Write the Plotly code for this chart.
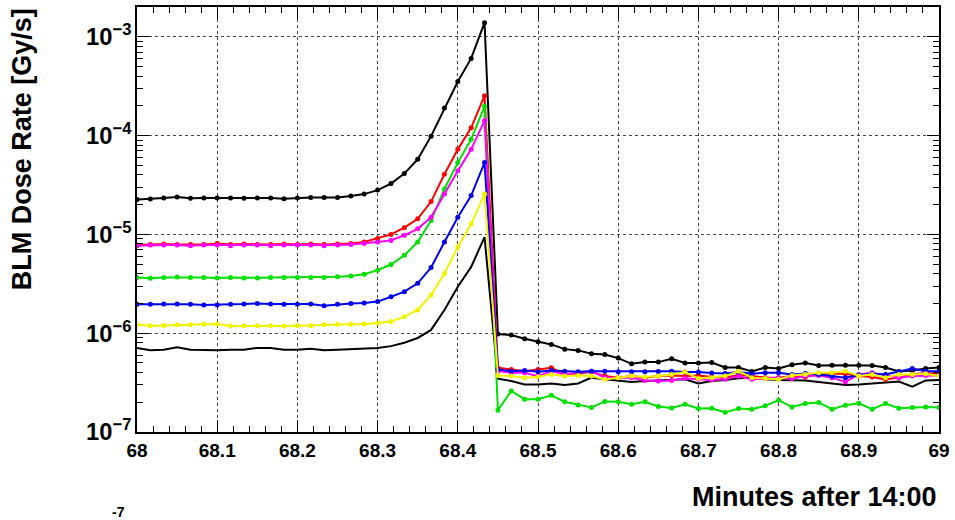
import plotly.graph_objects as go

# time axis: one sample per second, minutes after 14:00
t_sec = list(range(0, 61))
x_min = [68 + s / 60 for s in t_sec]

black_top = [2.25e-5, 2.28e-5, 2.34e-5, 2.39e-5, 2.32e-5, 2.34e-5, 2.34e-5, 2.34e-5, 2.32e-5, 2.34e-5,
             2.34e-5, 2.29e-5, 2.34e-5, 2.37e-5, 2.37e-5, 2.37e-5, 2.45e-5,
             2.56e-5, 2.81e-5, 3.27e-5, 4.13e-5, 5.76e-5, 9.88e-5, 1.90e-4, 3.53e-4, 6.05e-4, 1.39e-3,
             9.8e-7, 9.6e-7, 8.8e-7, 8.2e-7, 7.7e-7, 6.9e-7, 6.7e-7, 6.2e-7, 6.1e-7, 5.6e-7,
             4.9e-7, 5.1e-7, 5.1e-7, 5.5e-7, 5.0e-7, 5.0e-7, 5.05e-7,
             4.5e-7, 4.5e-7, 4.1e-7, 4.5e-7, 4.4e-7, 4.8e-7, 5.0e-7, 4.7e-7, 4.75e-7, 4.75e-7,
             4.75e-7, 4.7e-7, 4.5e-7, 4.1e-7, 4.2e-7, 4.4e-7, 4.5e-7]

red = [7.8e-6, 7.9e-6, 8.0e-6, 7.9e-6, 7.9e-6, 7.9e-6, 8.1e-6, 7.9e-6, 8.0e-6, 7.9e-6,
       7.9e-6, 8.0e-6, 7.9e-6, 8.0e-6, 7.9e-6, 8.0e-6, 8.1e-6,
       8.4e-6, 9.1e-6, 1.0e-5, 1.17e-5, 1.44e-5, 2.15e-5, 4.07e-5, 7.26e-5, 1.20e-4, 2.54e-4,
       4.47e-7, 4.3e-7, 4.13e-7, 4.3e-7, 4.47e-7, 3.83e-7, 3.89e-7, 4.07e-7, 3.68e-7, 3.55e-7,
       3.68e-7, 3.55e-7, 3.68e-7, 3.74e-7, 3.68e-7, 3.74e-7, 3.6e-7,
       3.55e-7, 3.77e-7, 3.68e-7, 3.55e-7, 3.55e-7, 3.68e-7, 3.6e-7, 3.89e-7, 3.89e-7, 3.89e-7,
       3.68e-7, 3.6e-7, 3.41e-7, 3.55e-7, 3.83e-7, 3.98e-7, 3.83e-7]

magenta = [7.7e-6, 7.8e-6, 7.8e-6, 7.8e-6, 7.7e-6, 7.8e-6, 7.8e-6, 7.7e-6, 7.8e-6, 7.8e-6,
           7.7e-6, 7.8e-6, 7.8e-6, 7.8e-6, 7.7e-6, 7.8e-6, 7.9e-6,
           8.1e-6, 8.4e-6, 8.7e-6, 9.8e-6, 1.14e-5, 1.49e-5, 2.56e-5, 4.4e-5, 7.26e-5, 1.42e-4,
           4.13e-7, 3.98e-7, 3.98e-7, 3.68e-7, 4.13e-7, 3.83e-7, 3.98e-7, 4.13e-7, 3.55e-7, 3.55e-7,
           3.55e-7, 3.33e-7, 3.28e-7, 3.33e-7, 3.49e-7, 3.41e-7, 3.36e-7,
           3.41e-7, 3.68e-7, 3.41e-7, 3.47e-7, 3.55e-7, 3.47e-7, 3.68e-7, 3.74e-7, 3.55e-7, 3.21e-7,
           3.83e-7, 3.98e-7, 3.77e-7, 3.55e-7, 3.68e-7, 3.74e-7, 3.74e-7]

green = [3.67e-6, 3.6e-6, 3.67e-6, 3.7e-6, 3.67e-6, 3.67e-6, 3.63e-6, 3.67e-6, 3.63e-6, 3.63e-6,
         3.67e-6, 3.67e-6, 3.67e-6, 3.67e-6, 3.67e-6, 3.73e-6, 3.8e-6,
         3.96e-6, 4.35e-6, 4.96e-6, 6.15e-6, 8.37e-6, 1.38e-5, 2.88e-5, 5.33e-5, 9.17e-5, 1.98e-4,
         1.66e-7, 2.6e-7, 2.15e-7, 2.15e-7, 2.35e-7, 2.02e-7, 1.88e-7, 1.77e-7, 2.04e-7, 2.02e-7,
         1.91e-7, 2.02e-7, 1.81e-7, 1.75e-7, 1.91e-7, 1.73e-7, 1.74e-7,
         1.58e-7, 1.73e-7, 1.70e-7, 1.84e-7, 2.1e-7, 1.79e-7, 1.94e-7, 1.99e-7, 1.70e-7, 1.87e-7,
         1.95e-7, 1.70e-7, 1.94e-7, 1.74e-7, 1.77e-7, 1.79e-7, 1.77e-7]

blue = [1.96e-6, 1.96e-6, 1.97e-6, 1.97e-6, 1.96e-6, 1.93e-6, 1.93e-6, 1.96e-6, 1.97e-6, 2.0e-6,
        1.97e-6, 1.96e-6, 1.96e-6, 1.97e-6, 1.90e-6, 1.96e-6, 2.0e-6,
        2.02e-6, 2.09e-6, 2.34e-6, 2.63e-6, 3.2e-6, 4.62e-6, 8.37e-6, 1.49e-5, 2.47e-5, 5.33e-5,
        4.3e-7, 4.13e-7, 4.2e-7, 4.07e-7, 4.2e-7, 4.13e-7, 4.07e-7, 4.13e-7, 4.13e-7, 4.07e-7,
        4.07e-7, 4.07e-7, 4.1e-7, 4.13e-7, 4.04e-7, 4.04e-7, 3.95e-7,
        3.92e-7, 4.04e-7, 3.89e-7, 3.98e-7, 3.98e-7, 3.83e-7, 3.92e-7, 3.83e-7, 3.68e-7, 3.55e-7,
        3.77e-7, 3.89e-7, 3.83e-7, 4.07e-7, 4.4e-7, 4.13e-7, 4.13e-7]

yellow = [1.22e-6, 1.19e-6, 1.2e-6, 1.22e-6, 1.22e-6, 1.23e-6, 1.24e-6, 1.18e-6, 1.19e-6, 1.19e-6,
          1.19e-6, 1.18e-6, 1.19e-6, 1.19e-6, 1.22e-6, 1.23e-6, 1.23e-6,
          1.24e-6, 1.27e-6, 1.31e-6, 1.47e-6, 1.72e-6, 2.44e-6, 4.03e-6, 7.45e-6, 1.28e-5, 2.56e-5,
          3.74e-7, 3.68e-7, 3.55e-7, 3.63e-7, 3.83e-7, 3.68e-7, 3.74e-7, 3.68e-7, 3.41e-7, 3.55e-7,
          3.68e-7, 3.6e-7, 3.68e-7, 3.83e-7, 4.04e-7, 3.47e-7, 3.55e-7,
          3.68e-7, 4.13e-7, 3.55e-7, 3.47e-7, 3.41e-7, 3.74e-7, 3.83e-7, 3.98e-7, 3.98e-7, 4.13e-7,
          3.68e-7, 3.83e-7, 3.55e-7, 3.83e-7, 3.83e-7, 3.89e-7, 3.68e-7]

black_bottom = [7.1e-7, 6.72e-7, 6.8e-7, 7.2e-7, 6.8e-7, 6.72e-7, 6.72e-7, 6.8e-7, 6.8e-7, 7.1e-7,
                7.1e-7, 6.8e-7, 6.8e-7, 6.95e-7, 6.72e-7, 6.8e-7, 6.93e-7,
                7.0e-7, 7.1e-7, 7.4e-7, 8.0e-7, 8.95e-7, 1.08e-6, 1.72e-6, 2.95e-6, 4.69e-6, 9.4e-6,
                3.47e-7, 3.28e-7, 3.03e-7, 3.03e-7, 3.1e-7, 2.99e-7, 3.1e-7, 3.55e-7, 3.41e-7, 3.28e-7,
                3.21e-7, 3.28e-7, 3.33e-7, 3.33e-7, 3.41e-7, 3.1e-7, 3.28e-7,
                3.36e-7, 3.49e-7, 3.55e-7, 3.41e-7, 3.36e-7, 3.36e-7, 3.33e-7, 3.21e-7, 3.1e-7, 2.99e-7,
                3.03e-7, 3.1e-7, 3.16e-7, 3.24e-7, 2.88e-7, 3.33e-7, 3.36e-7]

X_RANGE = [68, 69]
Y_RANGE = [-7, -2.698]

FONT = "Liberation Sans"

fig = go.Figure()

series = [
    (black_bottom, "#000000", False),
    (black_top, "#000000", True),
    (red, "#ff0000", True),
    (green, "#00e000", True),
    (magenta, "#ff00ff", True),
    (blue, "#0000ee", True),
    (yellow, "#f2f200", True),
]
for vals, col, mk in series:
    fig.add_trace(go.Scatter(
        x=x_min, y=vals,
        mode="lines+markers" if mk else "lines",
        line=dict(color=col, width=2),
        marker=dict(color=col, size=5, symbol="circle"),
        showlegend=False,
    ))

fig.update_layout(
    width=955, height=520,
    margin=dict(l=137, r=16, t=5, b=88),
    paper_bgcolor="white", plot_bgcolor="white",
    font=dict(family=FONT, color="black", size=19),
    xaxis=dict(
        range=X_RANGE, tick0=68, dtick=0.1,
        tickprefix="<b>", ticksuffix="</b>",
        ticks="inside", ticklen=12, tickwidth=1, tickcolor="black",
        minor=dict(ticks="inside", dtick=0.02, ticklen=6, tickwidth=1, tickcolor="black", showgrid=False),
        showline=True, linecolor="black", linewidth=1.5, mirror="ticks",
        showgrid=True, gridcolor="#444444", griddash="dot", gridwidth=1,
        zeroline=False,
    ),
    yaxis=dict(
        type="log", range=Y_RANGE, dtick=1,
        exponentformat="power", showexponent="all",
        tickprefix="<b>", ticksuffix="</b>",
        ticks="inside", ticklen=12, tickwidth=1, tickcolor="black",
        minor=dict(ticks="inside", dtick="D1", ticklen=6, tickwidth=1, tickcolor="black", showgrid=False),
        showline=True, linecolor="black", linewidth=1.5, mirror="ticks",
        showgrid=True, gridcolor="#444444", griddash="dot", gridwidth=1,
        zeroline=False,
    ),
)

fig.add_annotation(
    text="<b>BLM Dose Rate [Gy/s]</b>",
    xref="paper", yref="paper",
    x=-115 / 802, y=(432 - 148) / 427,
    xanchor="center", yanchor="middle",
    textangle=-90, showarrow=False,
    font=dict(family=FONT, size=27, color="black"),
)

fig.add_annotation(
    text="<b>Minutes after 14:00</b>",
    xref="paper", yref="paper",
    x=1.0, y=-(497 - 432) / 427,
    xanchor="right", yanchor="middle",
    showarrow=False,
    font=dict(family=FONT, size=27, color="black"),
)

# exponent of the label of the panel below, visible at the bottom edge
fig.add_annotation(
    text="<b>-7</b>",
    xref="paper", yref="paper",
    x=(118 - 137) / 802, y=-(512 - 432) / 427,
    xanchor="center", yanchor="middle",
    showarrow=False,
    font=dict(family=FONT, size=14, color="black"),
)

fig.write_html("out.html")
